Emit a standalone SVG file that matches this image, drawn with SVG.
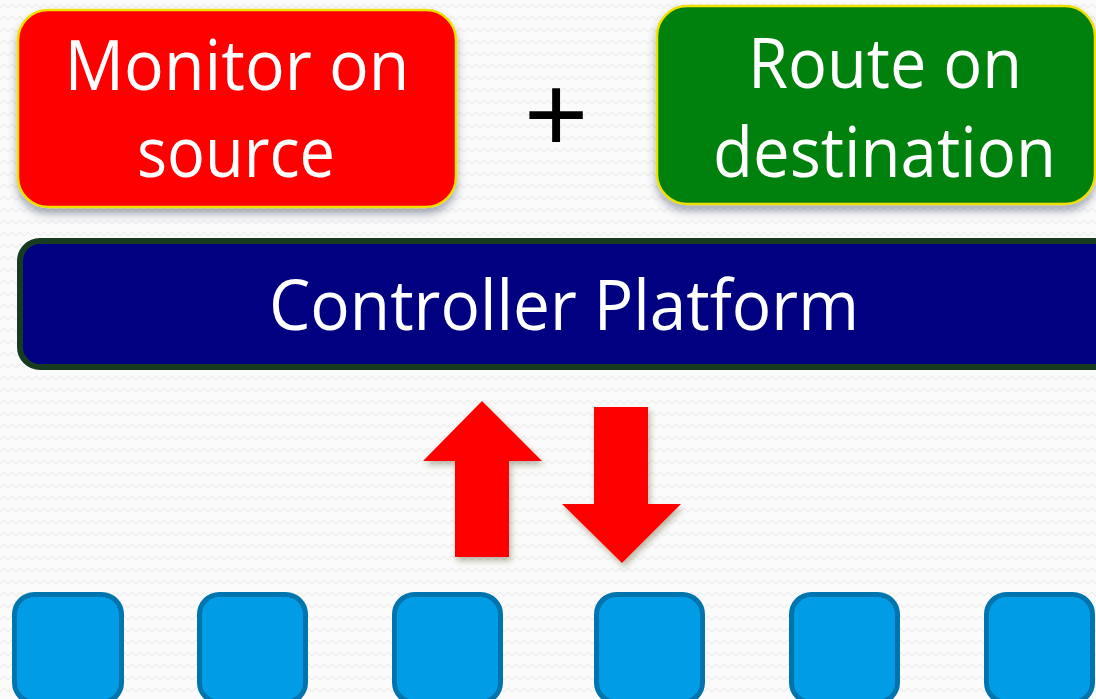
<svg xmlns="http://www.w3.org/2000/svg" width="1096" height="699" viewBox="0 0 1096 699">
  <defs>
    <pattern id="zig" width="8" height="12" patternUnits="userSpaceOnUse">
      <polyline points="0,8 4,4 8,8" fill="none" stroke="#ededed" stroke-width="1.2"/>
    </pattern>
    <filter id="shadow" x="-10%" y="-10%" width="120%" height="130%">
      <feDropShadow dx="0" dy="6" stdDeviation="4" flood-color="#3a4460" flood-opacity="0.45"/>
    </filter>
    <filter id="ashadow" x="-20%" y="-20%" width="140%" height="140%">
      <feDropShadow dx="2" dy="4" stdDeviation="3" flood-color="#5a5020" flood-opacity="0.4"/>
    </filter>
  </defs>
  <style>
    .lbl { font-family: "Open Sans", "Liberation Sans", sans-serif; fill: #ffffff; font-size: 69px; text-anchor: middle; }
    .arrow { fill: #ff0000; filter: url(#ashadow); }
    .sw { fill: #009de6; stroke: #0074ad; stroke-width: 5; }
  </style>
  <rect x="0" y="0" width="1096" height="699" fill="#fbfbfb"/>
  <rect x="0" y="0" width="1096" height="699" fill="url(#zig)"/>

  <g id="monitor">
    <rect x="18" y="10" width="438" height="197" rx="30" fill="#ff0000" stroke="#f0e000" stroke-width="2.5" filter="url(#shadow)"/>
    <text class="lbl" x="237" y="90" textLength="345" lengthAdjust="spacingAndGlyphs">Monitor on</text>
    <text class="lbl" x="236" y="177" textLength="198" lengthAdjust="spacingAndGlyphs">source</text>
  </g>

  <g id="plus">
    <text x="556" y="152" font-family="Liberation Sans, sans-serif" font-size="110" fill="#000000" text-anchor="middle">+</text>
  </g>

  <g id="route">
    <rect x="657" y="6" width="438" height="198" rx="30" fill="#06800a" stroke="#f0e000" stroke-width="2.5" filter="url(#shadow)"/>
    <text class="lbl" x="885" y="88" textLength="274" lengthAdjust="spacingAndGlyphs">Route on</text>
    <text class="lbl" x="884.5" y="177" textLength="343" lengthAdjust="spacingAndGlyphs">destination</text>
  </g>

  <g id="controller">
    <rect x="20" y="241" width="1100" height="126" rx="20" fill="#000080" stroke="#163b20" stroke-width="6"/>
    <text class="lbl" x="564" y="330" textLength="590" lengthAdjust="spacingAndGlyphs">Controller Platform</text>
  </g>

  <g id="connectors">
    <polygon class="arrow" points="482,401 542,461 509,461 509,557 455,557 455,461 423,461"/>
    <polygon class="arrow" points="594,407 648,407 648,504 681,504 622,563 562,504 594,504"/>
  </g>

  <g id="switch1"><rect class="sw" x="14.5" y="594.5" width="107" height="108" rx="20"/></g>
  <g id="switch2"><rect class="sw" x="199.5" y="594.5" width="106" height="108" rx="20"/></g>
  <g id="switch3"><rect class="sw" x="394.5" y="594.5" width="106" height="108" rx="20"/></g>
  <g id="switch4"><rect class="sw" x="596.5" y="594.5" width="106" height="108" rx="20"/></g>
  <g id="switch5"><rect class="sw" x="791.5" y="594.5" width="106" height="108" rx="20"/></g>
  <g id="switch6"><rect class="sw" x="986.5" y="594.5" width="106" height="108" rx="20"/></g>
</svg>
